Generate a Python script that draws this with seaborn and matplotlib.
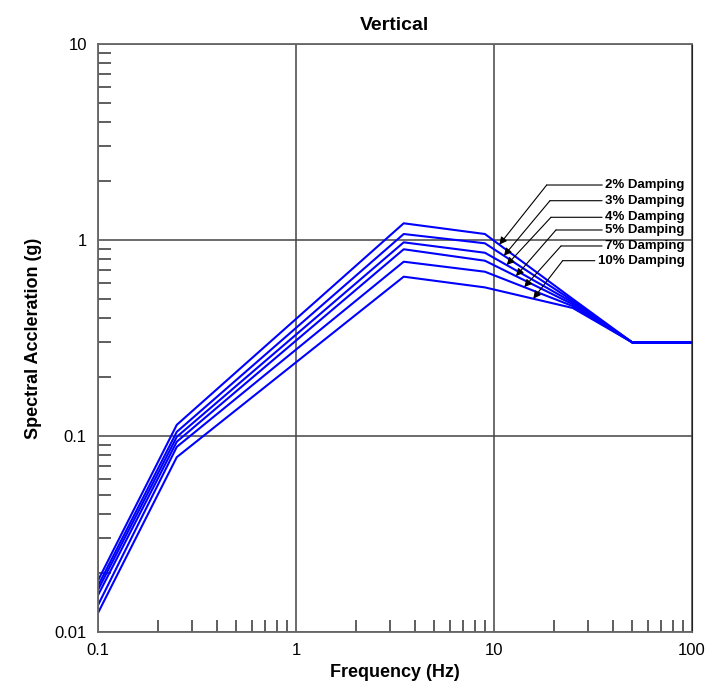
import numpy as np
import pandas as pd
import matplotlib
import matplotlib.pyplot as plt
import seaborn as sns
from matplotlib.ticker import LogLocator, FuncFormatter, NullFormatter

matplotlib.use("Agg")

# Corner frequencies of the design spectra (Hz)
freq = [0.1, 0.25, 3.5, 9.0, 25.0, 50.0, 100.0]

# Spectral acceleration (g) for each damping ratio
sa_2 = [0.0183, 0.114, 1.217, 1.073, 0.50, 0.30, 0.30]
sa_3 = [0.0172, 0.105, 1.073, 0.962, 0.49, 0.30, 0.30]
sa_4 = [0.0164, 0.099, 0.973, 0.861, 0.48, 0.30, 0.30]
sa_5 = [0.0154, 0.0935, 0.897, 0.784, 0.47, 0.30, 0.30]
sa_7 = [0.0137, 0.088, 0.775, 0.689, 0.46, 0.30, 0.30]
sa_10 = [0.0125, 0.078, 0.65, 0.573, 0.45, 0.30, 0.30]

damping_labels = ["2% Damping", "3% Damping", "4% Damping",
                  "5% Damping", "7% Damping", "10% Damping"]
series = [sa_2, sa_3, sa_4, sa_5, sa_7, sa_10]

# Frequencies where the label arrows touch each curve
tip_freq = [10.64, 11.23, 11.59, 12.91, 14.22, 15.79]

# Label elbow positions (axes fraction)
elbow_x = [0.7554, 0.7609, 0.7626, 0.7710, 0.7795, 0.7823]
elbow_y = [0.7602, 0.7335, 0.7053, 0.6837, 0.6565, 0.6315]

rows = []
for lab, vals in zip(damping_labels, series):
    for f, v in zip(freq, vals):
        rows.append({"Frequency": f, "Sa": v, "Damping": lab})
df = pd.DataFrame(rows)

sns.set_style("white")
plt.rcParams["font.family"] = ["Liberation Sans", "DejaVu Sans"]
plt.rcParams["text.color"] = "black"
plt.rcParams["axes.labelcolor"] = "black"

fig = plt.figure(figsize=(7.12, 6.92), dpi=100)
ax = fig.add_axes([0.1376, 0.0867, 0.9719 - 0.1376, 0.9364 - 0.0867])

sns.lineplot(data=df, x="Frequency", y="Sa", hue="Damping",
             palette=["#0000ff"] * len(series), linewidth=1.5,
             legend=False, ax=ax, sort=False)

ax.set_xscale("log")
ax.set_yscale("log")
ax.set_xlim(0.1, 100)
ax.set_ylim(0.01, 10)

fmt = FuncFormatter(lambda v, p: f"{v:g}")
ax.xaxis.set_major_formatter(fmt)
ax.yaxis.set_major_formatter(fmt)
ax.xaxis.set_minor_locator(LogLocator(base=10, subs=np.arange(2, 10)))
ax.yaxis.set_minor_locator(LogLocator(base=10, subs=np.arange(2, 10)))
ax.xaxis.set_minor_formatter(NullFormatter())
ax.yaxis.set_minor_formatter(NullFormatter())

ax.tick_params(which="major", length=0, labelsize=12, pad=8,
               labelcolor="black", bottom=True, left=True)
ax.tick_params(which="minor", direction="in", length=9, width=1.1,
               color="#333333", bottom=True, left=True,
               top=False, right=False)

ax.grid(True, which="major", color="#444444", linewidth=1.1)
for side in ["left", "bottom", "top"]:
    ax.spines[side].set_color("#666666")
    ax.spines[side].set_linewidth(1.3)
ax.spines["right"].set_color("#222222")

ax.set_title("Vertical", fontsize=14, fontweight="bold", pad=10,
             color="black")
ax.set_xlabel("Frequency (Hz)", fontsize=13, fontweight="bold", labelpad=4)
ax.set_ylabel("Spectral Accleration (g)", fontsize=13, fontweight="bold",
              labelpad=9)

logf = np.log10(freq)
for lab, vals, tf, ex, ey in zip(damping_labels, series, tip_freq,
                                 elbow_x, elbow_y):
    ty = 10 ** np.interp(np.log10(tf), logf, np.log10(vals))
    ax.annotate("", xy=(tf, ty), xycoords="data",
                xytext=(ex, ey), textcoords="axes fraction",
                arrowprops=dict(arrowstyle="-|>", color="black", lw=0.8,
                                mutation_scale=11, shrinkA=0, shrinkB=0))
    ax.annotate(lab, xy=(ex, ey), xycoords="axes fraction",
                xytext=(0.988, ey), textcoords="axes fraction",
                ha="right", va="center", fontsize=9.5, fontweight="bold",
                color="black",
                arrowprops=dict(arrowstyle="-", color="black", lw=0.8,
                                shrinkA=0, shrinkB=0, relpos=(0, 0.5)))

fig.savefig("out.png", dpi=100)
plt.close(fig)
